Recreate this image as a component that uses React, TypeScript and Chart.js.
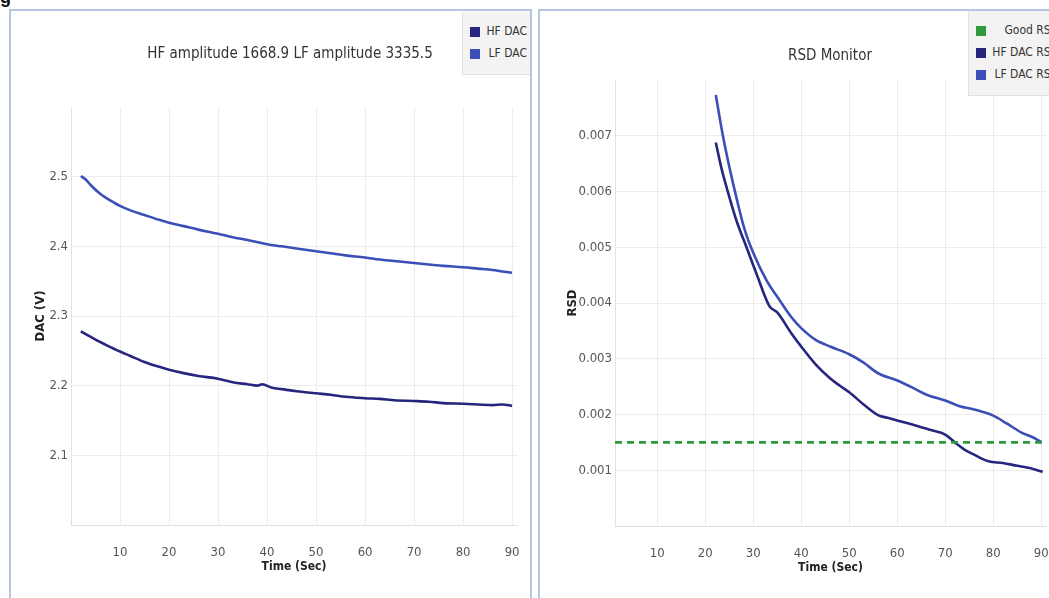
import React, { useEffect, useRef } from 'react';
import { Chart, registerables } from 'chart.js';
Chart.register(...registerables);

// ---------- data ----------
const HF_DAC_TIME = [2, 3, 5, 7, 10, 12, 15, 18, 20, 23, 26, 30, 33, 36, 38, 39, 41, 43, 46, 50, 53, 56, 60, 63, 66, 70, 73, 76, 80, 83, 86, 88, 90];
const HF_DAC = [2.278, 2.274, 2.266, 2.259, 2.249, 2.243, 2.234, 2.227, 2.223, 2.218, 2.214, 2.21, 2.205, 2.202, 2.2, 2.202, 2.197, 2.195, 2.192, 2.189, 2.187, 2.184, 2.182, 2.181, 2.179, 2.178, 2.177, 2.175, 2.174, 2.173, 2.172, 2.173, 2.171];

const LF_DAC_TIME = [2, 3, 4, 6, 8, 10, 12, 15, 18, 20, 23, 26, 30, 33, 36, 40, 43, 46, 50, 53, 56, 60, 63, 66, 70, 73, 76, 80, 83, 86, 88, 90];
const LF_DAC = [2.501, 2.496, 2.488, 2.475, 2.466, 2.458, 2.452, 2.445, 2.438, 2.434, 2.429, 2.424, 2.418, 2.413, 2.409, 2.403, 2.4, 2.397, 2.393, 2.39, 2.387, 2.384, 2.381, 2.379, 2.376, 2.374, 2.372, 2.37, 2.368, 2.366, 2.364, 2.362];

const HF_RSD_TIME = [22.2, 23.4, 24.8, 26.5, 28.6, 30.7, 33.4, 35.0, 38, 40, 43, 46, 48, 50, 53, 56, 58, 61, 64, 67, 70, 72, 74, 76, 79, 82, 85, 87, 88.5, 90.3];
const HF_RSD = [0.00688, 0.00641, 0.00597, 0.00548, 0.005, 0.00452, 0.00394, 0.00383, 0.00345, 0.00322, 0.0029, 0.00265, 0.00252, 0.0024, 0.00218, 0.00199, 0.00194, 0.00187, 0.0018, 0.00172, 0.00164, 0.0015, 0.00137, 0.00128, 0.00116, 0.00113, 0.00108, 0.00105, 0.00102, 0.00097];

const LF_RSD_TIME = [22.2, 23.7, 25.1, 26.5, 28.2, 30, 32.8, 35.5, 38, 40, 43, 46, 50, 53, 56, 60, 63, 66, 70, 73, 76, 80, 83, 86, 88, 90];
const LF_RSD = [0.00773, 0.00699, 0.00641, 0.00589, 0.00532, 0.0049, 0.0044, 0.00405, 0.00374, 0.00355, 0.00334, 0.00322, 0.00308, 0.00293, 0.00274, 0.00261, 0.00249, 0.00236, 0.00225, 0.00215, 0.00209, 0.00198, 0.00183, 0.00167, 0.0016, 0.00151];

const GOOD_RSD_TIME = [1.2, 90.3];
const GOOD_RSD = [0.0015, 0.0015];

const X_TICKS = [10, 20, 30, 40, 50, 60, 70, 80, 90];
const DAC_TICKS = [2.1, 2.2, 2.3, 2.4, 2.5];
const RSD_TICKS = [0.001, 0.002, 0.003, 0.004, 0.005, 0.006, 0.007];

const LEFT_TITLE = 'HF amplitude 1668.9 LF amplitude 3335.5';
const RIGHT_TITLE = 'RSD Monitor';

// ---------- style ----------
const FONT = '"DejaVu Sans Condensed", "Liberation Sans Narrow", "Liberation Sans", sans-serif';
const HF_COLOR = '#26267f';
const LF_COLOR = '#3b4fb6';
const GOOD_COLOR = '#2f9a3c';
const GRID = '#ececec';
const TICK_COLOR = '#555555';
const PANEL_BORDER = '#b3c8e0';

const pts = (xs: number[], ys: number[]) => xs.map((x, i) => ({ x, y: ys[i] }));

function axisX(min: number, max: number) {
  return {
    type: 'linear' as const,
    min,
    max,
    afterBuildTicks: (s: any) => { s.ticks = X_TICKS.map((v) => ({ value: v })); },
    afterFit: (s: any) => { s.height = 49; s.paddingLeft = 0; s.paddingRight = 0; },
    ticks: { padding: 20, color: TICK_COLOR, font: { family: FONT, size: 13 }, maxRotation: 0, autoSkip: false },
    grid: { color: GRID, drawTicks: false },
    border: { color: '#e2e2e2' },
    title: { display: true, text: 'Time (Sec)', color: '#222', font: { family: FONT, size: 12, weight: 'bold' as const }, padding: 0 },
  };
}

export default function App() {
  const leftRef = useRef<HTMLCanvasElement | null>(null);
  const rightRef = useRef<HTMLCanvasElement | null>(null);

  useEffect(() => {
    const left = new Chart(leftRef.current as HTMLCanvasElement, {
      type: 'line',
      data: {
        datasets: [
          { label: 'HF DAC', data: pts(HF_DAC_TIME, HF_DAC), borderColor: HF_COLOR, backgroundColor: HF_COLOR, borderWidth: 2.6, pointRadius: 0, cubicInterpolationMode: 'monotone' },
          { label: 'LF DAC', data: pts(LF_DAC_TIME, LF_DAC), borderColor: LF_COLOR, backgroundColor: LF_COLOR, borderWidth: 2.6, pointRadius: 0, cubicInterpolationMode: 'monotone' },
        ],
      },
      options: {
        responsive: false,
        animation: false,
        layout: { padding: { left: 33, right: 18, top: 107, bottom: 24 } },
        plugins: { legend: { display: false }, tooltip: { enabled: false } },
        scales: {
          x: axisX(0, 91),
          y: {
            type: 'linear',
            min: 2.0,
            max: 2.6,
            afterBuildTicks: (s: any) => { s.ticks = DAC_TICKS.map((v) => ({ value: v })); },
            afterFit: (s: any) => { s.width = 38; s.paddingTop = 0; s.paddingBottom = 0; },
            ticks: { padding: 3, color: TICK_COLOR, font: { family: FONT, size: 13 }, callback: (v: any) => Number(v).toFixed(1) },
            grid: { color: GRID, drawTicks: false },
            border: { color: '#e2e2e2' },
            title: { display: true, text: 'DAC (V)', color: '#222', font: { family: FONT, size: 13, weight: 'bold' }, padding: 0 },
          },
        },
      },
    } as any);

    const right = new Chart(rightRef.current as HTMLCanvasElement, {
      type: 'line',
      data: {
        datasets: [
          { label: 'Good RSD', data: pts(GOOD_RSD_TIME, GOOD_RSD), borderColor: GOOD_COLOR, backgroundColor: GOOD_COLOR, borderWidth: 2.6, borderDash: [7, 5], pointRadius: 0 },
          { label: 'HF DAC RSD', data: pts(HF_RSD_TIME, HF_RSD), borderColor: HF_COLOR, backgroundColor: HF_COLOR, borderWidth: 2.6, pointRadius: 0, cubicInterpolationMode: 'monotone' },
          { label: 'LF DAC RSD', data: pts(LF_RSD_TIME, LF_RSD), borderColor: LF_COLOR, backgroundColor: LF_COLOR, borderWidth: 2.6, pointRadius: 0, cubicInterpolationMode: 'monotone' },
        ],
      },
      options: {
        responsive: false,
        animation: false,
        layout: { padding: { left: 30, right: 3, top: 80, bottom: 23 } },
        plugins: { legend: { display: false }, tooltip: { enabled: false } },
        scales: {
          x: axisX(1.2, 91),
          y: {
            type: 'linear',
            min: 0,
            max: 0.008,
            afterBuildTicks: (s: any) => { s.ticks = RSD_TICKS.map((v) => ({ value: v })); },
            afterFit: (s: any) => { s.width = 50; s.paddingTop = 0; s.paddingBottom = 0; },
            ticks: { padding: 3, color: TICK_COLOR, font: { family: FONT, size: 13 }, callback: (v: any) => Number(v).toFixed(3) },
            grid: { color: GRID, drawTicks: false },
            border: { color: '#e2e2e2' },
            title: { display: true, text: 'RSD', color: '#222', font: { family: FONT, size: 13, weight: 'bold' }, padding: 0 },
          },
        },
      },
    } as any);

    let alive = true;
    const fonts = (document as any).fonts;
    if (fonts && fonts.load) {
      Promise.all([
        fonts.load('13px "DejaVu Sans Condensed"'),
        fonts.load('bold 13px "DejaVu Sans Condensed"'),
      ]).then(() => {
        if (!alive) return;
        left.update();
        right.update();
      }).catch(() => {});
    }

    return () => { alive = false; left.destroy(); right.destroy(); };
  }, []);

  const legendText: React.CSSProperties = { fontFamily: FONT, fontSize: 12, color: '#333', whiteSpace: 'nowrap' };
  const sq = (c: string): React.CSSProperties => ({ position: 'absolute', left: 7, width: 10, height: 10, background: c });

  return (
    <div style={{ position: 'absolute', left: 0, top: 0, width: 1049, height: 598, overflow: 'hidden', background: '#fff' }}>
      <div style={{ position: 'absolute', left: 0, top: -13, fontFamily: '"Liberation Sans", Arial, sans-serif', fontWeight: 'bold', fontSize: 18, color: '#111' }}>g</div>
      <div style={{ position: 'absolute', left: 9, top: 9, width: 519, height: 640, border: `2px solid ${PANEL_BORDER}` }} />
      <div style={{ position: 'absolute', left: 538, top: 9, width: 540, height: 640, border: `2px solid ${PANEL_BORDER}` }} />
      <canvas ref={leftRef} width={535} height={598} style={{ position: 'absolute', left: 0, top: 0, width: 535, height: 598 }} />
      <canvas ref={rightRef} width={514} height={598} style={{ position: 'absolute', left: 535, top: 0, width: 514, height: 598 }} />
      <div style={{ position: 'absolute', left: 90, width: 400, top: 44, textAlign: 'center', fontFamily: FONT, fontSize: 15, color: '#333', whiteSpace: 'nowrap' }}>{LEFT_TITLE}</div>
      <div style={{ position: 'absolute', left: 780, width: 100, top: 46, textAlign: 'center', fontFamily: FONT, fontSize: 15, color: '#333', whiteSpace: 'nowrap' }}>{RIGHT_TITLE}</div>

      <div style={{ position: 'absolute', left: 462, top: 12, width: 67, height: 62, background: '#f3f3f3', borderLeft: '1px solid #e0e0e0', borderBottom: '1px solid #e0e0e0' }}>
        <div style={{ ...sq(HF_COLOR), top: 15 }} />
        <div style={{ ...legendText, position: 'absolute', right: 3, top: 12 }}>HF DAC</div>
        <div style={{ ...sq(LF_COLOR), top: 37 }} />
        <div style={{ ...legendText, position: 'absolute', right: 3, top: 34 }}>LF DAC</div>
      </div>

      <div style={{ position: 'absolute', left: 968, top: 11, width: 94, height: 84, background: '#f3f3f3', borderLeft: '1px solid #e0e0e0', borderBottom: '1px solid #e0e0e0' }}>
        <div style={{ ...sq(GOOD_COLOR), top: 15 }} />
        <div style={{ ...legendText, position: 'absolute', right: 4, top: 12 }}>Good RSD</div>
        <div style={{ ...sq(HF_COLOR), top: 37 }} />
        <div style={{ ...legendText, position: 'absolute', right: 4, top: 34 }}>HF DAC RSD</div>
        <div style={{ ...sq(LF_COLOR), top: 59 }} />
        <div style={{ ...legendText, position: 'absolute', right: 4, top: 56 }}>LF DAC RSD</div>
      </div>
    </div>
  );
}
